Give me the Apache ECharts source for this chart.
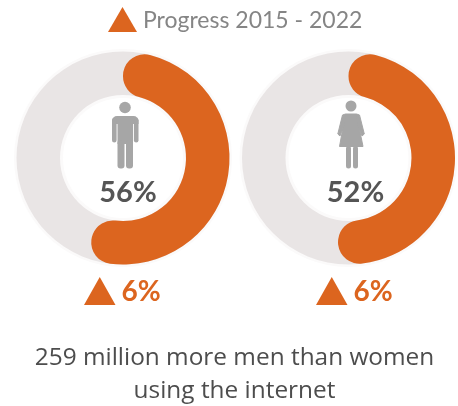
<!DOCTYPE html>
<html>
<head>
<meta charset="utf-8">
<style>html,body{margin:0;padding:0;background:#fff}#c{width:458px;height:406px;filter:blur(0.45px)}</style>
<script src="https://cdn.jsdelivr.net/npm/echarts@6/dist/echarts.min.js"></script>
</head>
<body>
<div id="c"></div>
<script>
const groups = ['Men', 'Women'];
const shares = [56, 52];
const progress = ['6%', '6%'];
const legendText = 'Progress 2015 - 2022';
const caption = ['259 million more men than women', 'using the internet'];

const ORANGE = '#dc651f', GREY = '#e9e5e5', HALO = '#fbfafa', ICON = '#a6a6a6';
const centers = [[123, 158], [348.5, 158]];

function ring(center, radius, color, z) {
  return { type: 'pie', silent: true, center, radius, z, startAngle: 90, clockwise: true,
    animation: false, label: { show: false }, labelLine: { show: false },
    itemStyle: { color, borderWidth: 0 }, data: [100] };
}
function share(center, value) {
  return { type: 'pie', silent: true, center, radius: [63, 106.5], z: 5, startAngle: 90, clockwise: true,
    animation: false, label: { show: false }, labelLine: { show: false },
    data: [
      { value, itemStyle: { color: ORANGE, borderRadius: 21.5 } },
      { value: 100 - value, itemStyle: { color: 'rgba(0,0,0,0)' } }
    ] };
}
const series = [];
centers.forEach((c, i) => {
  series.push(ring(c, [60, 109], HALO, 1));
  series.push(ring(c, [63, 106.5], GREY, 2));
  series.push(share(c, shares[i]));
});

function rect(x, y, w, h, r) {
  return { type: 'rect', z: 10, silent: true, shape: { x, y, width: w, height: h, r }, style: { fill: ICON } };
}
function poly(points) {
  return { type: 'polygon', z: 10, silent: true, shape: { points },
    style: { fill: ICON, stroke: ICON, lineWidth: 1, lineJoin: 'round' } };
}
function tri(x0, x1, y0, y1) {
  return { type: 'polygon', z: 10, silent: true,
    shape: { points: [[(x0 + x1) / 2, y0], [x1, y1], [x0, y1]] }, style: { fill: ORANGE } };
}
function txt(x, y, text, font, fill, align) {
  return { type: 'text', z: 10, silent: true, x, y,
    style: { text, font, fill, align: align || 'center', verticalAlign: 'middle' } };
}
const graphic = [
  tri(108, 137, 7, 32),
  txt(143, 21, legendText, '23px Lato', '#858585', 'left'),
  // man
  { type: 'circle', z: 10, silent: true, shape: { cx: 125, cy: 107.5, r: 5.8 }, style: { fill: ICON } },
  rect(112, 116, 26.5, 8, [5, 5, 0, 0]),
  rect(112, 118, 4.6, 24.5, 2.3),
  rect(133.9, 118, 4.6, 24.5, 2.3),
  rect(117.5, 116, 15.5, 28, 0),
  rect(117.5, 140, 7, 28.5, 3),
  rect(126, 140, 7, 28.5, 3),
  // woman
  { type: 'circle', z: 10, silent: true, shape: { cx: 351, cy: 106, r: 5.5 }, style: { fill: ICON } },
  poly([[345.5, 114], [356.5, 114], [358, 122], [363, 146.5], [339.5, 146.5], [344, 122]]),
  poly([[345.5, 114], [342.5, 115], [337.8, 134], [340, 136], [346, 120]]),
  poly([[356.5, 114], [359.5, 115], [364.3, 134], [362, 136], [356, 120]]),
  rect(346, 146, 5, 22.5, 2.5),
  rect(353, 146, 5, 22.5, 2.5),
  // labels
  txt(128, 193, shares[0] + '%', 'bold 29px Lato', '#555555'),
  txt(355.5, 193, shares[1] + '%', 'bold 29px Lato', '#555555'),
  tri(84, 115.5, 277, 305),
  tri(316, 347.5, 277, 305),
  txt(141, 292, progress[0], 'bold 28px Lato', ORANGE),
  txt(373, 292, progress[1], 'bold 28px Lato', ORANGE),
  txt(234.5, 358, caption[0], '24.4px "Open Sans"', '#4d4d4d'),
  txt(234.5, 391, caption[1], '24.4px "Open Sans"', '#4d4d4d')
];

const chart = echarts.init(document.getElementById('c'), null, { renderer: 'canvas' });
chart.setOption({ animation: false, backgroundColor: '#fff', series, graphic });
</script>
</body>
</html>
